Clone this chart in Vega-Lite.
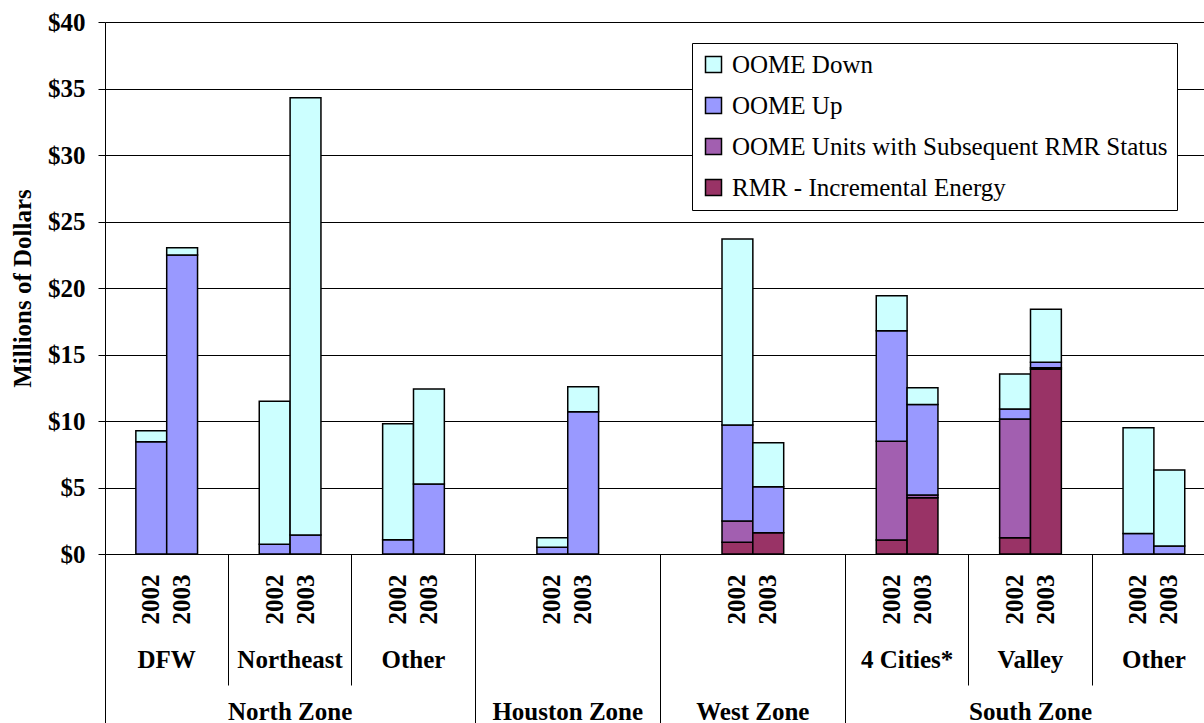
{
  "$schema": "https://vega.github.io/schema/vega-lite/v6.json",
  "width": 1099,
  "height": 532,
  "autosize": {"type": "none"},
  "padding": {"left": 105, "top": 22, "right": 0, "bottom": 169},
  "background": "white",
  "config": {"view": {"stroke": null}, "font": "Liberation Serif, Times New Roman, serif"},
  "data": {"values": [
    {"zone": "North Zone", "subzone": "DFW", "year": "2002", "bar": "DFW 2002", "series": "OOME Up", "value": 8.44},
    {"zone": "North Zone", "subzone": "DFW", "year": "2002", "bar": "DFW 2002", "series": "OOME Down", "value": 0.83},
    {"zone": "North Zone", "subzone": "DFW", "year": "2003", "bar": "DFW 2003", "series": "OOME Up", "value": 22.48},
    {"zone": "North Zone", "subzone": "DFW", "year": "2003", "bar": "DFW 2003", "series": "OOME Down", "value": 0.55},
    {"zone": "North Zone", "subzone": "Northeast", "year": "2002", "bar": "Northeast 2002", "series": "OOME Up", "value": 0.73},
    {"zone": "North Zone", "subzone": "Northeast", "year": "2002", "bar": "Northeast 2002", "series": "OOME Down", "value": 10.75},
    {"zone": "North Zone", "subzone": "Northeast", "year": "2003", "bar": "Northeast 2003", "series": "OOME Up", "value": 1.43},
    {"zone": "North Zone", "subzone": "Northeast", "year": "2003", "bar": "Northeast 2003", "series": "OOME Down", "value": 32.88},
    {"zone": "North Zone", "subzone": "Other", "year": "2002", "bar": "North Other 2002", "series": "OOME Up", "value": 1.08},
    {"zone": "North Zone", "subzone": "Other", "year": "2002", "bar": "North Other 2002", "series": "OOME Down", "value": 8.72},
    {"zone": "North Zone", "subzone": "Other", "year": "2003", "bar": "North Other 2003", "series": "OOME Up", "value": 5.26},
    {"zone": "North Zone", "subzone": "Other", "year": "2003", "bar": "North Other 2003", "series": "OOME Down", "value": 7.15},
    {"zone": "Houston Zone", "subzone": "", "year": "2002", "bar": "Houston 2002", "series": "OOME Up", "value": 0.5},
    {"zone": "Houston Zone", "subzone": "", "year": "2002", "bar": "Houston 2002", "series": "OOME Down", "value": 0.73},
    {"zone": "Houston Zone", "subzone": "", "year": "2003", "bar": "Houston 2003", "series": "OOME Up", "value": 10.7},
    {"zone": "Houston Zone", "subzone": "", "year": "2003", "bar": "Houston 2003", "series": "OOME Down", "value": 1.88},
    {"zone": "West Zone", "subzone": "", "year": "2002", "bar": "West 2002", "series": "RMR - Incremental Energy", "value": 0.88},
    {"zone": "West Zone", "subzone": "", "year": "2002", "bar": "West 2002", "series": "OOME Units with Subsequent RMR Status", "value": 1.6},
    {"zone": "West Zone", "subzone": "", "year": "2002", "bar": "West 2002", "series": "OOME Up", "value": 7.22},
    {"zone": "West Zone", "subzone": "", "year": "2002", "bar": "West 2002", "series": "OOME Down", "value": 13.98},
    {"zone": "West Zone", "subzone": "", "year": "2003", "bar": "West 2003", "series": "RMR - Incremental Energy", "value": 1.6},
    {"zone": "West Zone", "subzone": "", "year": "2003", "bar": "West 2003", "series": "OOME Up", "value": 3.46},
    {"zone": "West Zone", "subzone": "", "year": "2003", "bar": "West 2003", "series": "OOME Down", "value": 3.31},
    {"zone": "South Zone", "subzone": "4 Cities*", "year": "2002", "bar": "4 Cities 2002", "series": "RMR - Incremental Energy", "value": 1.05},
    {"zone": "South Zone", "subzone": "4 Cities*", "year": "2002", "bar": "4 Cities 2002", "series": "OOME Units with Subsequent RMR Status", "value": 7.42},
    {"zone": "South Zone", "subzone": "4 Cities*", "year": "2002", "bar": "4 Cities 2002", "series": "OOME Up", "value": 8.32},
    {"zone": "South Zone", "subzone": "4 Cities*", "year": "2002", "bar": "4 Cities 2002", "series": "OOME Down", "value": 2.63},
    {"zone": "South Zone", "subzone": "4 Cities*", "year": "2003", "bar": "4 Cities 2003", "series": "RMR - Incremental Energy", "value": 4.23},
    {"zone": "South Zone", "subzone": "4 Cities*", "year": "2003", "bar": "4 Cities 2003", "series": "OOME Units with Subsequent RMR Status", "value": 0.21},
    {"zone": "South Zone", "subzone": "4 Cities*", "year": "2003", "bar": "4 Cities 2003", "series": "OOME Up", "value": 6.81},
    {"zone": "South Zone", "subzone": "4 Cities*", "year": "2003", "bar": "4 Cities 2003", "series": "OOME Down", "value": 1.25},
    {"zone": "South Zone", "subzone": "Valley", "year": "2002", "bar": "Valley 2002", "series": "RMR - Incremental Energy", "value": 1.23},
    {"zone": "South Zone", "subzone": "Valley", "year": "2002", "bar": "Valley 2002", "series": "OOME Units with Subsequent RMR Status", "value": 8.92},
    {"zone": "South Zone", "subzone": "Valley", "year": "2002", "bar": "Valley 2002", "series": "OOME Up", "value": 0.75},
    {"zone": "South Zone", "subzone": "Valley", "year": "2002", "bar": "Valley 2002", "series": "OOME Down", "value": 2.63},
    {"zone": "South Zone", "subzone": "Valley", "year": "2003", "bar": "Valley 2003", "series": "RMR - Incremental Energy", "value": 13.89},
    {"zone": "South Zone", "subzone": "Valley", "year": "2003", "bar": "Valley 2003", "series": "OOME Units with Subsequent RMR Status", "value": 0.12},
    {"zone": "South Zone", "subzone": "Valley", "year": "2003", "bar": "Valley 2003", "series": "OOME Up", "value": 0.4},
    {"zone": "South Zone", "subzone": "Valley", "year": "2003", "bar": "Valley 2003", "series": "OOME Down", "value": 3.99},
    {"zone": "South Zone", "subzone": "Other", "year": "2002", "bar": "South Other 2002", "series": "OOME Up", "value": 1.55},
    {"zone": "South Zone", "subzone": "Other", "year": "2002", "bar": "South Other 2002", "series": "OOME Down", "value": 7.95},
    {"zone": "South Zone", "subzone": "Other", "year": "2003", "bar": "South Other 2003", "series": "OOME Up", "value": 0.6},
    {"zone": "South Zone", "subzone": "Other", "year": "2003", "bar": "South Other 2003", "series": "OOME Down", "value": 5.72}
  ]},
  "transform": [
    {"calculate": "indexof(['RMR - Incremental Energy','OOME Units with Subsequent RMR Status','OOME Up','OOME Down'], datum.series)", "as": "ord"}
  ],
  "layer": [
    {
      "mark": {"type": "bar", "stroke": "black", "strokeWidth": 1.5},
      "encoding": {
        "x": {"field": "bar", "type": "nominal",
          "scale": {"type": "band", "domain": ["x0","DFW 2002","DFW 2003","x3","x4","Northeast 2002","Northeast 2003","x7","x8","North Other 2002","North Other 2003","x11","x12","x13","Houston 2002","Houston 2003","x16","x17","x18","x19","West 2002","West 2003","x22","x23","x24","4 Cities 2002","4 Cities 2003","x27","x28","Valley 2002","Valley 2003","x31","x32","South Other 2002","South Other 2003","x35"], "range": [0, 1110.6], "paddingInner": 0, "paddingOuter": 0},
          "axis": {"title": null, "orient": "bottom", "domain": true, "domainColor": "black", "domainWidth": 1, "ticks": false, "tickSize": 0, "grid": false,
            "labelExpr": "indexof(datum.value, ' 200') > 0 ? slice(datum.value, -4) : ''",
            "labelAngle": 270, "labelFont": "Liberation Serif, Times New Roman, serif", "labelFontWeight": "bold", "labelFontSize": 25, "labelColor": "black", "labelPadding": 20, "labelOverlap": false, "labelBound": false, "labelLimit": 200}},
        "y": {"field": "value", "type": "quantitative", "stack": "zero",
          "scale": {"domain": [0, 40], "nice": false},
          "axis": {"values": [0,5,10,15,20,25,30,35,40], "labelExpr": "'$' + datum.value", "title": "Millions of Dollars",
            "domainColor": "black", "domainWidth": 1, "tickColor": "black", "tickSize": 7, "tickWidth": 1,
            "grid": true, "gridColor": "black", "gridWidth": 1, "gridOpacity": 1,
            "labelFont": "Liberation Serif, Times New Roman, serif", "labelFontWeight": "bold", "labelFontSize": 25, "labelColor": "black", "labelPadding": 13,
            "titleFont": "Liberation Serif, Times New Roman, serif", "titleFontWeight": "bold", "titleFontSize": 25, "titleColor": "black", "titlePadding": 12}},
        "color": {"field": "series", "type": "nominal",
          "scale": {"domain": ["OOME Down","OOME Up","OOME Units with Subsequent RMR Status","RMR - Incremental Energy"], "range": ["#CCFFFF","#9999FF","#A25FB0","#993366"]},
          "legend": {"orient": "none", "legendX": 587, "legendY": 21, "title": null, "fillColor": "white", "strokeColor": "black", "padding": 9,
            "labelFont": "Liberation Serif, Times New Roman, serif", "labelFontSize": 25, "labelColor": "black", "labelLimit": 600, "labelOffset": 6,
            "symbolType": "square", "symbolSize": 256, "symbolStrokeColor": "black", "symbolStrokeWidth": 1.5, "symbolOpacity": 1, "rowPadding": 15}},
        "order": {"field": "ord", "type": "quantitative"}
      }
    },
    {
      "mark": {"type": "point", "opacity": 0},
      "encoding": {
        "x": {"field": "bar", "type": "nominal",
          "scale": {"type": "band", "domain": ["x0","DFW 2002","DFW 2003","x3","x4","Northeast 2002","Northeast 2003","x7","x8","North Other 2002","North Other 2003","x11","x12","x13","Houston 2002","Houston 2003","x16","x17","x18","x19","West 2002","West 2003","x22","x23","x24","4 Cities 2002","4 Cities 2003","x27","x28","Valley 2002","Valley 2003","x31","x32","South Other 2002","South Other 2003","x35"], "range": [0, 1110.6], "paddingInner": 0, "paddingOuter": 0},
          "axis": {"title": null, "orient": "bottom", "domain": false, "ticks": false, "tickSize": 0, "grid": false,
            "values": ["DFW 2003","Northeast 2003","North Other 2003","4 Cities 2003","Valley 2003","South Other 2003"],
            "labelExpr": "{'DFW 2003':'DFW','Northeast 2003':'Northeast','North Other 2003':'Other','4 Cities 2003':'4 Cities*','Valley 2003':'Valley','South Other 2003':'Other'}[datum.value]",
            "labelAngle": 0, "labelAlign": "center", "labelBaseline": "alphabetic", "labelPadding": 113, "labelOffset": -15.43,
            "labelFont": "Liberation Serif, Times New Roman, serif", "labelFontWeight": "bold", "labelFontSize": 25, "labelColor": "black", "labelOverlap": false, "labelBound": false}}
      }
    },
    {
      "mark": {"type": "point", "opacity": 0},
      "encoding": {
        "x": {"field": "bar", "type": "nominal",
          "scale": {"type": "band", "domain": ["x0","DFW 2002","DFW 2003","x3","x4","Northeast 2002","Northeast 2003","x7","x8","North Other 2002","North Other 2003","x11","x12","x13","Houston 2002","Houston 2003","x16","x17","x18","x19","West 2002","West 2003","x22","x23","x24","4 Cities 2002","4 Cities 2003","x27","x28","Valley 2002","Valley 2003","x31","x32","South Other 2002","South Other 2003","x35"], "range": [0, 1110.6], "paddingInner": 0, "paddingOuter": 0},
          "axis": {"title": null, "orient": "bottom", "domain": false, "ticks": false, "tickSize": 0, "grid": false,
            "values": ["Northeast 2003","Houston 2003","West 2003","Valley 2003"],
            "labelExpr": "{'Northeast 2003':'North Zone','Houston 2003':'Houston Zone','West 2003':'West Zone','Valley 2003':'South Zone'}[datum.value]",
            "labelAngle": 0, "labelAlign": "center", "labelBaseline": "alphabetic", "labelPadding": 165, "labelOffset": -15.43,
            "labelFont": "Liberation Serif, Times New Roman, serif", "labelFontWeight": "bold", "labelFontSize": 25, "labelColor": "black", "labelOverlap": false, "labelBound": false}}
      }
    },
    {
      "mark": {"type": "point", "opacity": 0},
      "encoding": {
        "x": {"field": "bar", "type": "nominal",
          "scale": {"type": "band", "domain": ["x0","DFW 2002","DFW 2003","x3","x4","Northeast 2002","Northeast 2003","x7","x8","North Other 2002","North Other 2003","x11","x12","x13","Houston 2002","Houston 2003","x16","x17","x18","x19","West 2002","West 2003","x22","x23","x24","4 Cities 2002","4 Cities 2003","x27","x28","Valley 2002","Valley 2003","x31","x32","South Other 2002","South Other 2003","x35"], "range": [0, 1110.6], "paddingInner": 0, "paddingOuter": 0},
          "axis": {"title": null, "orient": "bottom", "domain": false, "labels": false, "grid": false, "bandPosition": 0,
            "values": ["x0","x12","x18","x24"],
            "ticks": true, "tickSize": 170, "tickColor": "black", "tickWidth": 1}}
      }
    },
    {
      "mark": {"type": "point", "opacity": 0},
      "encoding": {
        "x": {"field": "bar", "type": "nominal",
          "scale": {"type": "band", "domain": ["x0","DFW 2002","DFW 2003","x3","x4","Northeast 2002","Northeast 2003","x7","x8","North Other 2002","North Other 2003","x11","x12","x13","Houston 2002","Houston 2003","x16","x17","x18","x19","West 2002","West 2003","x22","x23","x24","4 Cities 2002","4 Cities 2003","x27","x28","Valley 2002","Valley 2003","x31","x32","South Other 2002","South Other 2003","x35"], "range": [0, 1110.6], "paddingInner": 0, "paddingOuter": 0},
          "axis": {"title": null, "orient": "bottom", "domain": false, "labels": false, "grid": false, "bandPosition": 0,
            "values": ["x4","x8","x28","x32"],
            "ticks": true, "tickSize": 131, "tickColor": "black", "tickWidth": 1}}
      }
    }
  ],
  "resolve": {"scale": {"x": "independent"}, "axis": {"x": "independent"}}
}
